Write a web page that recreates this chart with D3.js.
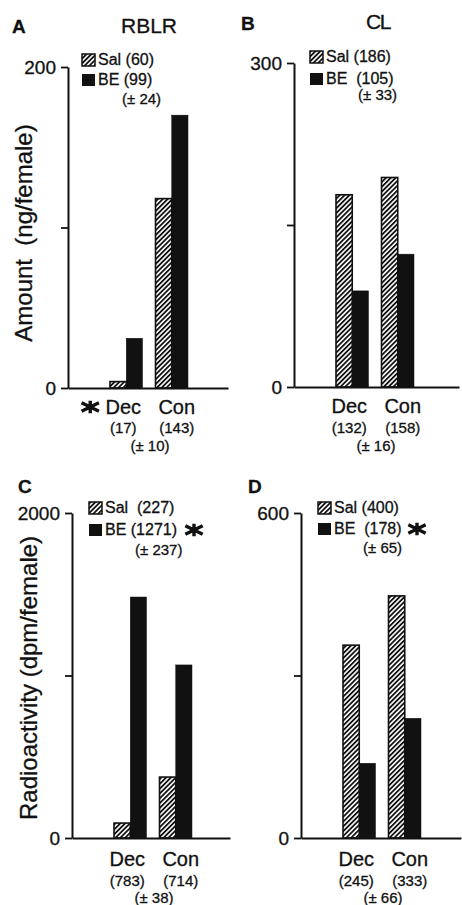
<!DOCTYPE html>
<html>
<head>
<meta charset="utf-8">
<script src="https://cdn.jsdelivr.net/npm/d3@7"></script>
<style>
  body { margin: 0; background: #fff; }
  svg { display: block; font-family: "Liberation Sans", Arial, Helvetica, sans-serif; }
  text { fill: #111; stroke: #111; stroke-width: 0.3px; white-space: pre; }
</style>
</head>
<body>
<svg id="chart" width="462" height="905"></svg>
<script>
// --- Data ---
const groups = ["Dec", "Con"];
const series = ["Sal", "BE"];
const panelLetters = ["A", "B", "C", "D"];
const panelTitles = ["RBLR", "CL", "", ""];
const yMax = [200, 300, 2000, 600];
const salValues = [[4, 118], [178, 194], [92, 375], [356, 447]];
const beValues = [[31, 170], [89, 123], [1483, 1065], [138, 221]];
const legendSal = ["Sal (60)", "Sal (186)", "Sal  (227)", "Sal (400)"];
const legendBE = ["BE (99)", "BE  (105)", "BE (1271)", "BE  (178)"];
const legendSE = ["(± 24)", "(± 33)", "(± 237)", "(± 65)"];
const legendStar = [false, false, true, true];
const groupCounts = [["(17)", "(143)"], ["(132)", "(158)"], ["(783)", "(714)"], ["(245)", "(333)"]];
const groupSE = ["(± 10)", "(± 16)", "(± 38)", "(± 66)"];
const groupStar = [true, false, false, false];

// --- Layout per panel ---
const axisX = [68, 294, 72, 301];
const axisTop = [67, 63, 513, 513];
const axisBase = [388, 387, 838, 838];
const axisRight = [228, 459, 230, 461];
const letterPos = [[12, 33], [241, 30], [18, 493], [248, 493]];
const titlePos = [[149, 33], [378, 29]];
const legX = [82, 310, 89, 318];
const legSalY = [65, 62, 513, 513];
const legBEY = [85, 84, 535, 534];
const legSEX = [122, 358, 135, 363];
const legSEY = [104, 100, 555, 553];
const legStarX = [0, 0, 194, 417];
const grpLabelY = [414, 413, 866, 866];
const grpCountY = [433, 433, 886, 886];
const grpSEY = [451, 451, 903, 903];

const svg = d3.select("#chart");

// hatch pattern for saline bars
svg.append("defs").append("pattern")
    .attr("id", "hatch")
    .attr("patternUnits", "userSpaceOnUse")
    .attr("width", 3.4).attr("height", 3.4)
    .attr("patternTransform", "rotate(45)")
    .call(p => {
        p.append("rect").attr("width", 3.4).attr("height", 3.4).attr("fill", "#fff");
        p.append("rect").attr("width", 1.8).attr("height", 3.4).attr("fill", "#111");
    });

// six-armed asterisk used for significance marks
const asterisk = {
    draw(ctx, size) {
        const r = Math.sqrt(size) / 2;
        ctx.moveTo(0, -r * 0.72); ctx.lineTo(0, r * 0.72);
        ctx.moveTo(-r, -r * 0.5); ctx.lineTo(r, r * 0.5);
        ctx.moveTo(-r, r * 0.5); ctx.lineTo(r, -r * 0.5);
    }
};
function drawStar(x, y) {
    svg.append("path")
        .attr("d", d3.symbol(asterisk, 300)())
        .attr("transform", `translate(${x},${y})`)
        .attr("fill", "none")
        .attr("stroke", "#111")
        .attr("stroke-width", 3.4);
}

// y axis titles
svg.append("text")
    .attr("transform", "translate(32,233) rotate(-90)")
    .attr("text-anchor", "middle")
    .attr("font-size", "24px")
    .text("Amount  (ng/female)");
svg.append("text")
    .attr("transform", "translate(37,678) rotate(-90)")
    .attr("text-anchor", "middle")
    .attr("font-size", "24px")
    .text("Radioactivity (dpm/female)");

panelLetters.forEach((letter, i) => {
    const ax = axisX[i];

    const y = d3.scaleLinear()
        .domain([0, yMax[i]])
        .range([axisBase[i], axisTop[i]]);

    const x = d3.scaleBand()
        .domain(groups)
        .range([ax + 42, ax + 42 + 78])
        .paddingInner(0.2857);

    const xs = d3.scaleBand()
        .domain(series)
        .range([0, x.bandwidth()]);

    // panel letter and title
    svg.append("text")
        .attr("x", letterPos[i][0]).attr("y", letterPos[i][1])
        .attr("font-size", "19px").attr("font-weight", "bold")
        .text(letter);
    if (panelTitles[i]) {
        svg.append("text")
            .attr("x", titlePos[i][0]).attr("y", titlePos[i][1])
            .attr("text-anchor", "middle")
            .attr("font-size", "21px")
            .attr("letter-spacing", i === 1 ? "-1.5px" : "0px")
            .text(panelTitles[i]);
    }

    // bars
    const rows = groups.map((g, j) => [
        { g, s: "Sal", v: salValues[i][j] },
        { g, s: "BE", v: beValues[i][j] }
    ]).flat();

    svg.append("g").selectAll("rect")
        .data(rows)
        .join("rect")
        .attr("x", d => x(d.g) + xs(d.s))
        .attr("y", d => y(d.v))
        .attr("width", xs.bandwidth())
        .attr("height", d => y(0) - y(d.v))
        .attr("fill", d => d.s === "Sal" ? "url(#hatch)" : "#111")
        .attr("stroke", "#111")
        .attr("stroke-width", d => d.s === "Sal" ? 1.6 : 0.5);

    // y axis
    const yAxis = svg.append("g")
        .attr("transform", `translate(${ax},0)`)
        .call(d3.axisLeft(y)
            .tickValues([0, yMax[i] / 2, yMax[i]])
            .tickFormat(d => d === yMax[i] / 2 ? "" : d)
            .tickSize(7)
            .tickSizeOuter(0)
            .tickPadding(5));
    yAxis.attr("font-size", null).attr("font-family", null);
    yAxis.select(".domain").attr("stroke", "#111").attr("stroke-width", 2);
    yAxis.selectAll(".tick line").attr("stroke", "#111").attr("stroke-width", 1.8);
    yAxis.selectAll(".tick text")
        .style("font-size", "19px")
        .attr("fill", "#111");

    // baseline
    const xb = d3.scaleLinear().range([ax, axisRight[i]]);
    const xAxis = svg.append("g")
        .attr("transform", `translate(0,${axisBase[i]})`)
        .call(d3.axisBottom(xb).ticks(0).tickSizeOuter(0));
    xAxis.select(".domain").attr("stroke", "#111").attr("stroke-width", 2);

    // group labels
    const labelX = groups.map((g, j) => x(g) + x.bandwidth() / 2 + (j === 0 ? -3 : 5));
    groups.forEach((g, j) => {
        svg.append("text")
            .attr("x", labelX[j]).attr("y", grpLabelY[i])
            .attr("text-anchor", "middle")
            .attr("font-size", "20px")
            .text(g);
        svg.append("text")
            .attr("x", labelX[j]).attr("y", grpCountY[i])
            .attr("text-anchor", "middle")
            .attr("font-size", "15px")
            .text(groupCounts[i][j]);
    });
    svg.append("text")
        .attr("x", (labelX[0] + labelX[1]) / 2).attr("y", grpSEY[i])
        .attr("text-anchor", "middle")
        .attr("font-size", "15px")
        .text(groupSE[i]);
    if (groupStar[i]) drawStar(labelX[0] - 33, grpLabelY[i] - 7);

    // legend
    const lx = legX[i];
    svg.append("rect")
        .attr("x", lx).attr("y", legSalY[i] - 11)
        .attr("width", 13).attr("height", 12)
        .attr("fill", "url(#hatch)")
        .attr("stroke", "#111").attr("stroke-width", 1.5);
    svg.append("rect")
        .attr("x", lx).attr("y", legBEY[i] - 11)
        .attr("width", 13).attr("height", 12)
        .attr("fill", "#111");
    svg.append("text")
        .attr("x", lx + 16).attr("y", legSalY[i])
        .attr("font-size", "16px")
        .text(legendSal[i]);
    svg.append("text")
        .attr("x", lx + 16).attr("y", legBEY[i])
        .attr("font-size", "16px")
        .text(legendBE[i]);
    svg.append("text")
        .attr("x", legSEX[i]).attr("y", legSEY[i])
        .attr("font-size", "15px")
        .text(legendSE[i]);
    if (legendStar[i]) drawStar(legStarX[i], legBEY[i] - 5);
});
</script>
</body>
</html>
